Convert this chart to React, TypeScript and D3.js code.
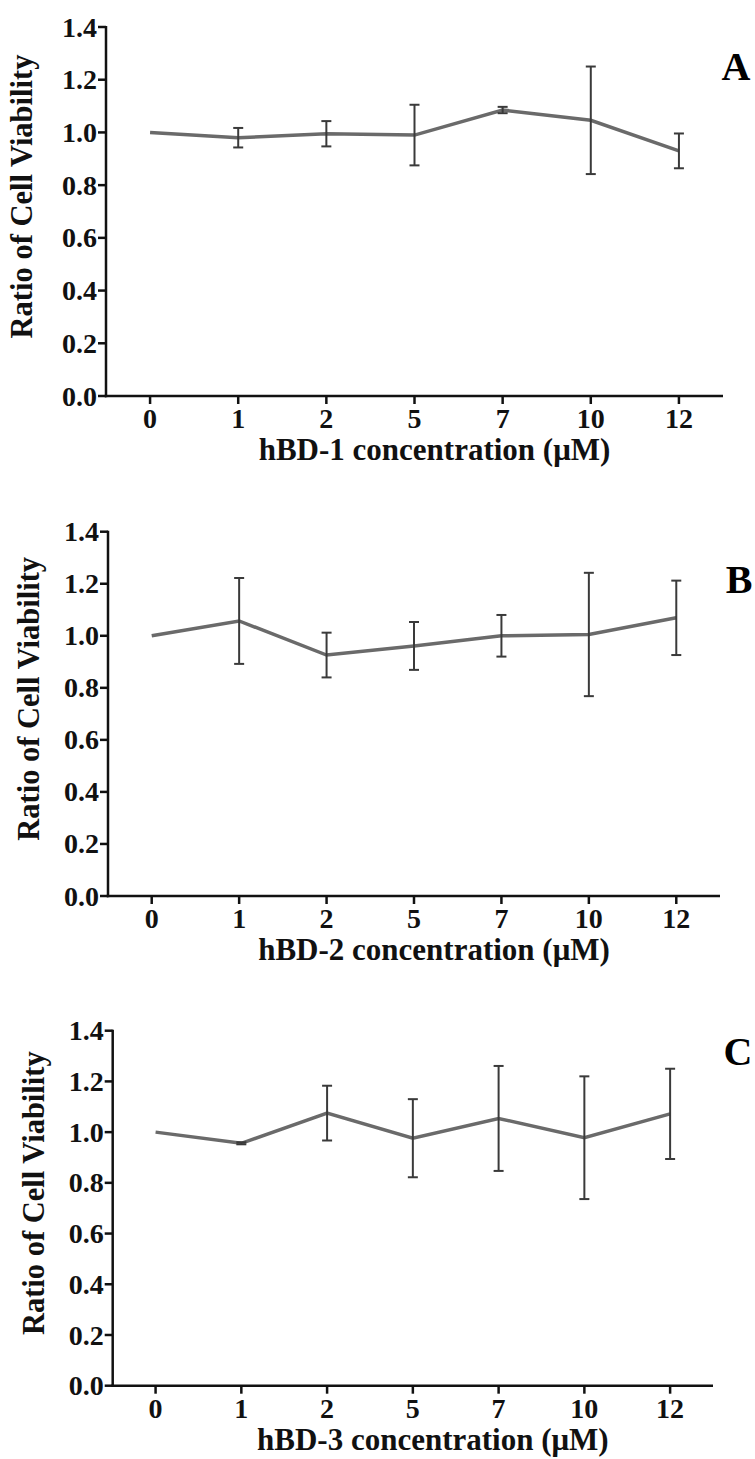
import React from "react";
import * as d3 from "d3";

const categories = ["0", "1", "2", "5", "7", "10", "12"];
const yTicks = [0, 0.2, 0.4, 0.6, 0.8, 1.0, 1.2, 1.4];

const meanA = [1.0, 0.98, 0.995, 0.99, 1.085, 1.046, 0.93];
const errA = [0, 0.037, 0.048, 0.115, 0.012, 0.204, 0.066];
const meanB = [1.0, 1.057, 0.926, 0.961, 1.0, 1.005, 1.069];
const errB = [0, 0.165, 0.086, 0.092, 0.08, 0.237, 0.143];
const meanC = [1.0, 0.956, 1.075, 0.976, 1.054, 0.978, 1.072];
const errC = [0, 0.004, 0.108, 0.154, 0.207, 0.242, 0.178];

const titles = ["hBD-1 concentration (\u03bcM)", "hBD-2 concentration (\u03bcM)", "hBD-3 concentration (\u03bcM)"];
const letters = ["A", "B", "C"];

const panels = [
  { left: 106, right: 723, top: 27, bottom: 396, titleX: 31.5, letterX: 736, letterY: 80, mean: meanA, err: errA },
  { left: 108, right: 720, top: 531.7, bottom: 896, titleX: 38.5, letterX: 739, letterY: 593, mean: meanB, err: errB },
  { left: 112.7, right: 713, top: 1030.7, bottom: 1385.7, titleX: 43.5, letterX: 738, letterY: 1065, mean: meanC, err: errC },
];

const FONT = "'Liberation Serif', 'Times New Roman', serif";

function Panel({ p, i }: { p: any; i: number }) {
  const x = d3.scalePoint<string>().domain(categories).range([p.left, p.right]).padding(0.5);
  const y = d3.scaleLinear().domain([0, 1.4]).range([p.bottom, p.top]);
  const data = categories.map((c, k) => ({ c, m: p.mean[k], e: p.err[k] }));
  const line = d3
    .line<any>()
    .x((d) => x(d.c)!)
    .y((d) => y(d.m));
  const midX = (p.left + p.right) / 2 + 20;
  return (
    <g>
      <line x1={p.left} x2={p.left} y1={p.top - 1} y2={p.bottom + 1.25} stroke="#111" strokeWidth={2.5} />
      <line x1={p.left - 1.25} x2={p.right} y1={p.bottom} y2={p.bottom} stroke="#111" strokeWidth={2.5} />
      {yTicks.map((t) => (
        <g key={t}>
          <line x1={p.left - 8} x2={p.left} y1={y(t)} y2={y(t)} stroke="#111" strokeWidth={2.5} />
          <text
            x={p.left - 9}
            y={y(t)}
            dy="0.34em"
            textAnchor="end"
            fontFamily={FONT}
            fontWeight="bold"
            fontSize={28}
            fill="#111"
          >
            {t.toFixed(1)}
          </text>
        </g>
      ))}
      {categories.map((c) => (
        <g key={c}>
          <line x1={x(c)} x2={x(c)} y1={p.bottom} y2={p.bottom + 8} stroke="#111" strokeWidth={2.5} />
          <text
            x={x(c)}
            y={p.bottom + 32}
            textAnchor="middle"
            fontFamily={FONT}
            fontWeight="bold"
            fontSize={28}
            fill="#111"
          >
            {c}
          </text>
        </g>
      ))}
      <text
        transform={`translate(${p.titleX},${(p.top + p.bottom) / 2 - 15}) rotate(-90)`}
        textAnchor="middle"
        fontFamily={FONT}
        fontWeight="bold"
        fontSize={30.5}
        fill="#111"
      >
        Ratio of Cell Viability
      </text>
      <text
        x={midX}
        y={p.bottom + 64}
        textAnchor="middle"
        fontFamily={FONT}
        fontWeight="bold"
        fontSize={31}
        fill="#111"
      >
        {titles[i]}
      </text>
      <text
        x={p.letterX}
        y={p.letterY}
        textAnchor="middle"
        fontFamily={FONT}
        fontWeight="bold"
        fontSize={40}
        fill="#000"
      >
        {letters[i]}
      </text>
      <path d={line(data)!} fill="none" stroke="#6a6a6a" strokeWidth={3.5} />
      {data
        .filter((d) => d.e > 0)
        .map((d) => {
          const cx = x(d.c)!;
          return (
            <g key={d.c} stroke="#3a3a3a" strokeWidth={2}>
              <line x1={cx} x2={cx} y1={y(d.m + d.e)} y2={y(d.m - d.e)} />
              <line x1={cx - 5} x2={cx + 5} y1={y(d.m + d.e)} y2={y(d.m + d.e)} />
              <line x1={cx - 5} x2={cx + 5} y1={y(d.m - d.e)} y2={y(d.m - d.e)} />
            </g>
          );
        })}
    </g>
  );
}

export default function App() {
  return (
    <div style={{ position: "absolute", left: 0, top: 0 }}>
      <svg width={755} height={1459} style={{ display: "block", background: "#fff" }}>
        {panels.map((p, i) => (
          <Panel key={i} p={p} i={i} />
        ))}
      </svg>
    </div>
  );
}
